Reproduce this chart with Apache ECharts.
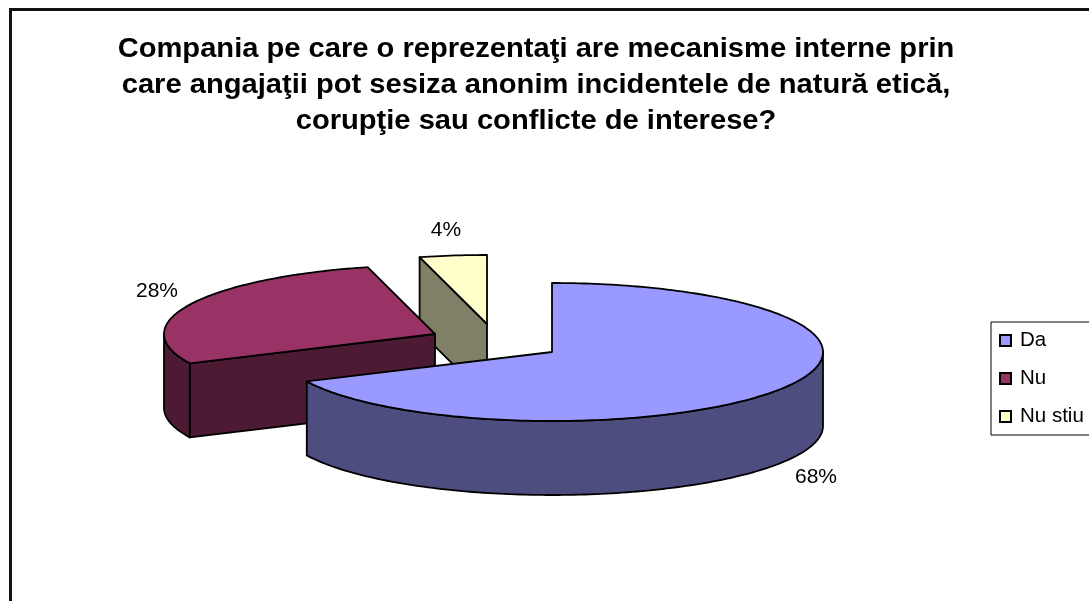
<!DOCTYPE html>
<html><head><meta charset="utf-8">
<style>html,body{margin:0;padding:0;background:#fff}#c{width:1089px;height:601px}</style>
<script src="https://cdn.jsdelivr.net/npm/echarts@6/dist/echarts.min.js"></script>
</head><body><div id="c"></div>
<script>
const titleLines = [
  'Compania pe care o reprezentaţi are mecanisme interne prin',
  'care angajaţii pot sesiza anonim incidentele de natură etică,',
  'corupţie sau conflicte de interese?'
];
const categories = ['Da', 'Nu', 'Nu stiu'];
const values = [68, 28, 4];
const topColors = ['#9999FF', '#993366', '#FFFFCC'];
const sideColors = ['#4D4D80', '#4D1A33', '#808066'];
const drawOrder = [3, 2, 1];

// Projection of the tilted pie
const centre = [552, 352], rx = 271, ry = 69, depth = 74;
const explode = [[0, 0], [-117, -18], [-65, -28]];
const labelPos = [[816, 477], [157, 291], [446, 230]];

const total = values.reduce((a, b) => a + b, 0);
const TAU = Math.PI * 2;
function startAngle(i) {
  let s = 0;
  for (let k = 0; k < i; k++) s += values[k];
  return s / total * TAU;
}
function arc(cx, cy, a0, a1, dy) {
  const n = Math.max(2, Math.ceil((a1 - a0) / 0.02)), pts = [];
  for (let k = 0; k <= n; k++) {
    const a = a0 + (a1 - a0) * k / n;
    pts.push([cx + rx * Math.sin(a), cy - ry * Math.cos(a) + dy]);
  }
  return pts;
}
function renderSlice(i) {
  return function (params, api) {
    const v = api.value(0);
    const a0 = startAngle(i), a1 = a0 + v / total * TAU;
    const cx = centre[0] + explode[i][0], cy = centre[1] + explode[i][1];
    const line = { stroke: '#000', lineWidth: 1.8, lineJoin: 'round' };
    const kids = [];
    const poly = (points, fill) => kids.push({ type: 'polygon', shape: { points }, style: Object.assign({ fill }, line) });
    if (Math.sin(a0) < -1e-6) {
      const p = [cx + rx * Math.sin(a0), cy - ry * Math.cos(a0)];
      poly([[cx, cy], p, [p[0], p[1] + depth], [cx, cy + depth]], sideColors[i]);
    }
    const f0 = Math.max(a0, Math.PI / 2), f1 = Math.min(a1, Math.PI * 1.5);
    if (f1 > f0) {
      poly(arc(cx, cy, f0, f1, 0).concat(arc(cx, cy, f0, f1, depth).reverse()), sideColors[i]);
    }
    poly([[cx, cy]].concat(arc(cx, cy, a0, a1, 0)), topColors[i]);
    kids.push({
      type: 'text', x: labelPos[i][0], y: labelPos[i][1],
      style: { text: v + '%', fill: '#000', font: '21px "Liberation Sans", Arial, sans-serif', align: 'center', verticalAlign: 'middle' }
    });
    return { type: 'group', children: kids };
  };
}

const chart = echarts.init(document.getElementById('c'), null, { renderer: 'canvas' });
chart.setOption({
  animation: false,
  backgroundColor: '#fff',
  legend: {
    orient: 'vertical', left: 991, top: 322,
    data: categories, icon: 'rect', itemWidth: 11, itemHeight: 11, itemGap: 17,
    padding: [8, 20, 8, 8], borderColor: '#000', borderWidth: 1, selectedMode: false,
    itemStyle: { borderColor: '#000', borderWidth: 2 },
    textStyle: { fontFamily: '"Liberation Sans", Arial, sans-serif', fontSize: 20.5, lineHeight: 21, color: '#000', padding: [0, 0, 0, 4] }
  },
  graphic: [{
    type: 'rect', silent: true, z: -1,
    shape: { x: 10.5, y: 9.5, width: 1300, height: 900 },
    style: { fill: 'none', stroke: '#111', lineWidth: 3 }
  }, {
    type: 'text', silent: true, x: 536, y: 31, scaleX: 1.04,
    style: {
      text: titleLines.join('\n'), align: 'center', fill: '#000', lineHeight: 36,
      font: 'bold 28px "Liberation Sans", Arial, sans-serif'
    }
  }],
  series: categories.map((name, i) => ({
    type: 'custom', name, coordinateSystem: 'none', z: drawOrder[i], silent: true,
    itemStyle: { color: topColors[i] },
    renderItem: renderSlice(i),
    data: [values[i]]
  }))
});
</script></body></html>
